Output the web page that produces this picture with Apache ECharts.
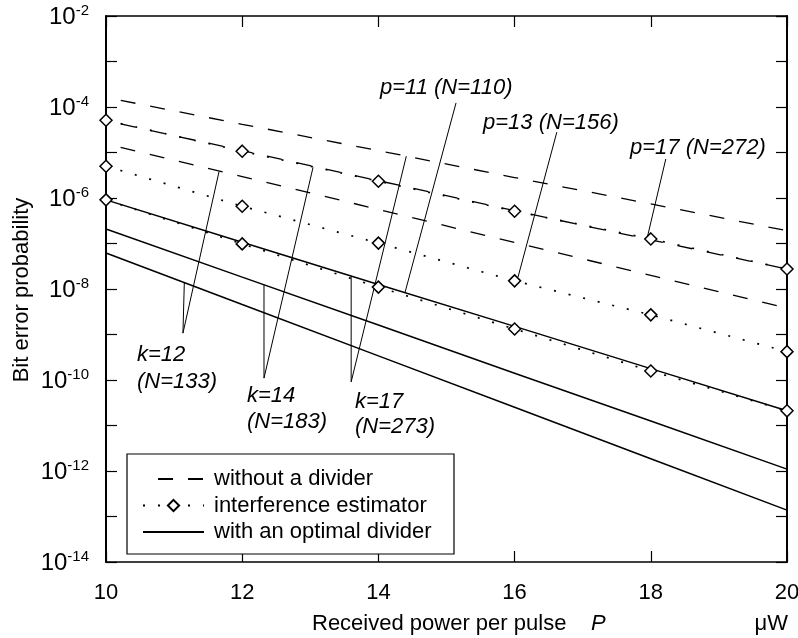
<!DOCTYPE html>
<html>
<head>
<meta charset="utf-8">
<script src="https://cdn.jsdelivr.net/npm/echarts@6/dist/echarts.min.js"></script>
<style>
  html, body { margin: 0; padding: 0; background: #fff; }
  #main { width: 798px; height: 638px; }
</style>
</head>
<body>
<div id="main"></div>
<script>
var FONT = '"Liberation Sans", Arial, Helvetica, sans-serif';

// received power per pulse (uW)
var power = [10, 12, 14, 16, 18, 20];

// without a divider (dashed), top to bottom
var noDiv1 = [1.62e-4, 4.17e-5, 1.10e-5, 2.82e-6, 7.41e-7, 1.91e-7];
var noDiv2 = [5.0e-5, 1.10e-5, 2.40e-6, 5.25e-7, 1.20e-7, 2.75e-8];
var noDiv3 = [1.55e-5, 2.95e-6, 5.62e-7, 1.05e-7, 2.0e-8, 3.8e-9];

// interference estimator (dotted + diamonds)
var est1 = [5.13e-5, 1.07e-5, 2.34e-6, 5.13e-7, 1.26e-7, 2.75e-8];
var est2 = [5.0e-6, 6.6e-7, 1.02e-7, 1.51e-8, 2.7e-9, 4.2e-10];
var est3 = [9.1e-7, 9.8e-8, 1.10e-8, 1.32e-9, 1.58e-10, 2.1e-11];

// with an optimal divider (solid)
var opt1 = [9.1e-7, 1.07e-7, 1.26e-8, 1.51e-9, 1.78e-10, 2.1e-11];
var opt2 = [2.09e-7, 1.82e-8, 1.62e-9, 1.41e-10, 1.26e-11, 1.10e-12];
var opt3 = [6.17e-8, 4.57e-9, 3.39e-10, 2.51e-11, 1.86e-12, 1.38e-13];

// leader lines of the annotations, in data coordinates
var leadK12 = [[11.15, 1.38e-8], [11.13, 1.07e-9], [11.66, 3.8e-6]];
var leadK14 = [[12.32, 1.24e-8], [12.32, 1.10e-10], [13.04, 4.7e-6]];
var leadK17 = [[13.60, 1.95e-8], [13.60, 9.1e-11], [14.41, 8.3e-6]];
var leadP11 = [[15.14, 1.23e-4], [14.39, 8.3e-9]];
var leadP13 = [[16.62, 2.8e-5], [16.05, 1.82e-8]];
var leadP17 = [[18.22, 7.2e-6], [17.94, 1.2e-7]];

var xTicks = [10, 12, 14, 16, 18, 20];

var NAME_DASH = 'without a divider';
var NAME_EST = 'interference estimator';
var NAME_OPT = 'with an optimal divider';

function pairs(ys) {
  return power.map(function (x, i) { return [x, ys[i]]; });
}

function dashed(ys) {
  return {
    name: NAME_DASH, type: 'line', data: pairs(ys), symbol: 'none',
    lineStyle: { color: '#000', width: 1.3, type: [15, 15], dashOffset: 15 },
    itemStyle: { color: '#000', opacity: 0 }, z: 3
  };
}
function dotted(ys) {
  return {
    name: NAME_EST, type: 'line', data: pairs(ys), symbol: 'diamond', symbolSize: 12,
    showSymbol: true,
    lineStyle: { color: '#000', width: 1.7, type: [2, 13] },
    itemStyle: { color: '#fff', borderColor: '#000', borderWidth: 1.5 }, z: 5
  };
}
function solid(ys) {
  return {
    name: NAME_OPT, type: 'line', data: pairs(ys), symbol: 'none',
    lineStyle: { color: '#000', width: 1.5 },
    itemStyle: { color: '#000', opacity: 0 }, z: 3
  };
}
function leader(pts) {
  return {
    name: 'leader', type: 'line', data: pts, symbol: 'none', silent: true,
    lineStyle: { color: '#000', width: 1 }, z: 2
  };
}

function note(text, x, y) {
  return {
    type: 'text', x: x, y: y, z: 20,
    style: {
      text: text, fill: '#000', fontSize: 22, fontStyle: 'italic', fontFamily: FONT,
      textAlign: 'left', textVerticalAlign: 'middle'
    }
  };
}

var chart = echarts.init(document.getElementById('main'));

var option = {
  animation: false,
  backgroundColor: '#fff',
  grid: { left: 106, right: 11, top: 16, bottom: 76, containLabel: false, outerBoundsMode: 'none' },
  xAxis: [
    {
      type: 'value', min: 10, max: 20, interval: 2, position: 'bottom',
      axisLine: { lineStyle: { color: '#000', width: 1.5 } },
      axisTick: { inside: true, length: 11, lineStyle: { color: '#000', width: 1.2 } },
      axisLabel: {
        margin: 20, fontSize: 22, fontFamily: FONT, color: '#000',
        formatter: function (v) { return xTicks.indexOf(v) >= 0 ? String(v) : ''; }
      },
      splitLine: { show: false }
    },
    {
      type: 'value', min: 10, max: 20, interval: 2, position: 'top',
      axisLine: { lineStyle: { color: '#000', width: 1.5 } },
      axisTick: { inside: true, length: 11, lineStyle: { color: '#000', width: 1.2 } },
      axisLabel: { show: false },
      splitLine: { show: false }
    }
  ],
  yAxis: [
    {
      type: 'log', logBase: 10, min: 1e-14, max: 1e-2, interval: 1, position: 'left',
      axisLine: { show: true, lineStyle: { color: '#000', width: 2 } },
      axisTick: { inside: true, length: 11, interval: 0, lineStyle: { color: '#000', width: 1.2 } },
      axisLabel: {
        margin: 17, color: '#000', interval: 0, hideOverlap: false,
        formatter: function (v) {
          var e = Math.round(Math.log(v) / Math.LN10);
          if (e % 2 !== 0) return '';
          return '{b|10}{s|' + e + '}';
        },
        rich: {
          b: { fontSize: 24, fontFamily: FONT, color: '#000', lineHeight: 26, verticalAlign: 'bottom' },
          s: { fontSize: 15, fontFamily: FONT, color: '#000', lineHeight: 15, verticalAlign: 'top' }
        }
      },
      splitLine: { show: false }
    },
    {
      type: 'log', logBase: 10, min: 1e-14, max: 1e-2, interval: 1, position: 'right',
      axisLine: { show: true, lineStyle: { color: '#000', width: 2 } },
      axisTick: { inside: true, length: 11, interval: 0, lineStyle: { color: '#000', width: 1.2 } },
      axisLabel: { show: false },
      splitLine: { show: false }
    }
  ],
  legend: {
    data: [
      { name: NAME_DASH, itemStyle: { opacity: 0 } },
      NAME_EST,
      { name: NAME_OPT, itemStyle: { opacity: 0 } }
    ],
    orient: 'vertical', left: 142, top: 468, padding: 0,
    itemWidth: 61, itemHeight: 14, itemGap: 4.5,
    selectedMode: false, z: 10,
    textStyle: { fontSize: 22, fontFamily: FONT, color: '#000', lineHeight: 22, padding: [0, 0, 0, 5] }
  },
  graphic: [
    {
      type: 'rect', z: 1,
      shape: { x: 127, y: 454, width: 327, height: 100 },
      style: { fill: '#fff', stroke: '#000', lineWidth: 1.2 }
    },
    {
      type: 'text', x: 22, y: 290, rotation: Math.PI / 2, z: 20,
      style: {
        text: 'Bit error probability', fill: '#000', fontSize: 22, fontFamily: FONT,
        textAlign: 'center', textVerticalAlign: 'middle'
      }
    },
    {
      type: 'text', x: 312, y: 624, z: 20,
      style: {
        text: 'Received power per pulse', fill: '#000', fontSize: 22, fontFamily: FONT,
        textAlign: 'left', textVerticalAlign: 'middle'
      }
    },
    note('P', 591, 624),
    {
      type: 'text', x: 788, y: 624, z: 20,
      style: {
        text: 'μW', fill: '#000', fontSize: 22, fontFamily: FONT,
        textAlign: 'right', textVerticalAlign: 'middle'
      }
    },
    note('p=11 (N=110)', 380, 88),
    note('p=13 (N=156)', 483, 123),
    note('p=17 (N=272)', 630, 148),
    note('k=12', 137, 355),
    note('(N=133)', 137, 382),
    note('k=14', 247, 396),
    note('(N=183)', 247, 422),
    note('k=17', 355, 402),
    note('(N=273)', 355, 427)
  ],
  series: [
    leader(leadK12), leader(leadK14), leader(leadK17),
    leader(leadP11), leader(leadP13), leader(leadP17),
    dashed(noDiv1), dashed(noDiv2), dashed(noDiv3),
    solid(opt1), solid(opt2), solid(opt3),
    dotted(est1), dotted(est2), dotted(est3)
  ]
};

chart.setOption(option);
</script>
</body>
</html>
